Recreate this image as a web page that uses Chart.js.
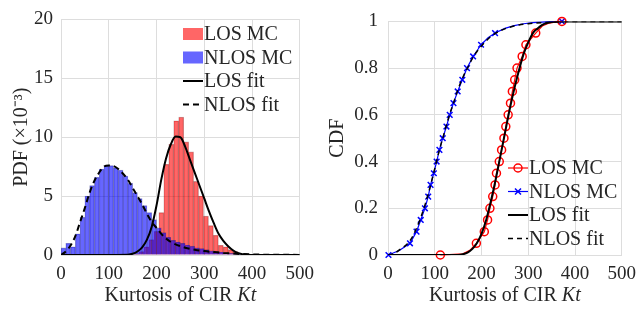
<!DOCTYPE html>
<html lang="en">
<head>
<meta charset="UTF-8">
<title>Kurtosis of CIR - PDF and CDF</title>
<script src="https://cdn.jsdelivr.net/npm/chart.js"></script>
<style>
  body { margin: 0; background: #fff; }
  .wrap { position: relative; width: 644px; height: 314px; }
  canvas { position: absolute; top: 0; }
  #pdfChart { left: 0; }
  #cdfChart { left: 322px; }
</style>
</head>
<body>
<div class="wrap">
  <canvas id="pdfChart" width="322" height="314"></canvas>
  <canvas id="cdfChart" width="322" height="314"></canvas>
</div>
<script>
// LOS histogram: bin centres (bin width ~10.4), heights in units of 1e-3
const losBins = [158.3, 168.7, 179.1, 189.4, 199.8, 210.2, 220.6, 230.9, 241.3, 251.7, 262.1,
                 272.4, 282.8, 293.2, 303.6, 313.9, 324.3, 334.7, 345.1, 355.4, 365.8];
const losPdf  = [0.1, 0.3, 0.7, 1.3, 2.0, 3.6, 7.7, 9.4, 11.4, 11.7, 9.6,
                 8.75, 6.25, 5.0, 3.3, 2.5, 1.67, 0.83, 0.7, 0.45, 0.3];

// NLOS histogram: bin centres (bin width 10)
const nlosBins = [5, 15, 25, 35, 45, 55, 65, 75, 85, 95, 105, 115, 125, 135, 145, 155, 165, 175, 185, 195,
                  205, 215, 225, 235, 245, 255, 265, 275, 285, 295, 305, 315, 325, 335, 345, 355, 365, 375, 385, 395];
const nlosPdf  = [0.6, 1.0, 0.7, 1.8, 3.2, 5.0, 5.9, 6.6, 7.3, 7.6, 7.6, 7.4, 7.2, 6.7, 6.1, 5.3, 4.8, 4.2, 3.6, 3.0,
                  2.3, 1.9, 1.5, 1.25, 1.1, 1.0, 0.85, 0.75, 0.6, 0.55, 0.45, 0.35, 0.3, 0.25, 0.2, 0.15, 0.1, 0.08, 0.05, 0.03];

// fitted pdfs
const losFitX   = [0, 140, 150, 160, 170, 180, 190, 200, 210, 220, 230, 240, 250, 260, 270, 280, 290, 300, 310, 320, 330, 340, 350, 360, 370, 380, 390, 400, 500];
const losFitPdf = [0, 0.03, 0.1, 0.3, 0.65, 1.3, 2.4, 4.2, 6.4, 8.2, 9.4, 10.05, 10.0, 9.2, 8.1, 7.0, 5.9, 4.8, 3.7, 2.7, 1.8, 1.2, 0.75, 0.4, 0.17, 0.07, 0.03, 0.01, 0];

const nlosFitX   = [0, 10, 20, 30, 40, 50, 60, 70, 80, 90, 100, 110, 120, 130, 140, 150, 160, 170, 180, 190, 200, 210, 220, 230, 240, 250, 260, 280, 300, 320, 340, 360, 380, 400, 450, 500];
const nlosFitPdf = [0, 0.3, 0.8, 1.6, 2.8, 4.0, 5.3, 6.3, 7.0, 7.5, 7.6, 7.55, 7.3, 6.9, 6.4, 5.7, 5.0, 4.3, 3.5, 2.8, 2.3, 1.8, 1.4, 1.1, 0.9, 0.75, 0.62, 0.45, 0.33, 0.25, 0.18, 0.12, 0.08, 0.05, 0.02, 0.01];

// empirical cdf, markers at levels 0, 0.05, ... 1
const cdfLevels = [0, 0.05, 0.1, 0.15, 0.2, 0.25, 0.3, 0.35, 0.4, 0.45, 0.5, 0.55, 0.6, 0.65, 0.7, 0.75, 0.8, 0.85, 0.9, 0.95, 1];
const losEcdfX  = [112, 160, 175, 189, 206, 213, 218, 224, 229, 232, 238, 243, 248, 252, 257, 262, 266, 271, 276, 287, 295, 316, 330, 345, 360, 372];
const losEcdf   = [0, 0.005, 0.02, 0.05, 0.1, 0.15, 0.2, 0.25, 0.3, 0.35, 0.4, 0.45, 0.5, 0.55, 0.6, 0.65, 0.7, 0.75, 0.8, 0.85, 0.9, 0.95, 0.98, 0.993, 0.998, 1];
const nlosEcdfX = [1, 25, 47, 61, 70, 79, 86, 91, 98, 104, 110, 117, 125, 132, 140, 149, 159, 169, 182, 199, 214, 229, 250, 270, 290, 310, 340, 372];
const nlosEcdf  = [0, 0.02, 0.05, 0.1, 0.15, 0.2, 0.25, 0.3, 0.35, 0.4, 0.45, 0.5, 0.55, 0.6, 0.65, 0.7, 0.75, 0.8, 0.85, 0.9, 0.93, 0.95, 0.97, 0.982, 0.99, 0.995, 0.998, 1];

// fitted cdfs
const losCdfX = [0, 150, 160, 170, 180, 190, 200, 210, 220, 230, 240, 250, 260, 270, 280, 290, 300, 310, 320, 330, 340, 350, 370, 400, 500];
const losCdf  = [0, 0, 0.003, 0.01, 0.025, 0.05, 0.09, 0.15, 0.23, 0.32, 0.42, 0.52, 0.62, 0.71, 0.79, 0.86, 0.91, 0.95, 0.97, 0.985, 0.993, 0.997, 1, 1, 1];
const nlosCdfX = [0, 10, 20, 30, 40, 50, 60, 70, 80, 90, 100, 110, 120, 130, 140, 150, 160, 170, 180, 190, 200, 220, 240, 260, 280, 300, 330, 370, 400, 500];
const nlosCdf  = [0, 0.005, 0.015, 0.03, 0.045, 0.07, 0.11, 0.16, 0.22, 0.29, 0.37, 0.45, 0.52, 0.59, 0.65, 0.71, 0.76, 0.80, 0.84, 0.87, 0.895, 0.935, 0.96, 0.975, 0.985, 0.99, 0.995, 0.999, 1, 1];

const pdfTicks = ['0', '5', '10', '15', '20'];
const cdfTicks = ['0', '0.2', '0.4', '0.6', '0.8', '1'];

const serif = '"Liberation Serif", "Times New Roman", serif';
const ink = '#262626';
const gridCol = '#dddddd';

const pts = (xs, ys) => xs.map((x, i) => ({ x: x, y: ys[i] }));
// only put a marker on the points that sit on a cdf level
const onLevel = c => cdfLevels.includes(c.raw.y) ? 4 : 0;

function drawMarker(ctx, ds, x, y, r) {
  ctx.strokeStyle = ds.pointBorderColor;
  ctx.lineWidth = ds.pointBorderWidth;
  ctx.beginPath();
  if (ds.pointStyle === 'circle') {
    ctx.arc(x, y, r, 0, Math.PI * 2);
  } else {
    const d = r * 0.75;
    ctx.moveTo(x - d, y - d); ctx.lineTo(x + d, y + d);
    ctx.moveTo(x + d, y - d); ctx.lineTo(x - d, y + d);
  }
  ctx.stroke();
}

// legend drawn inside the plot box, matlab style
const boxLegend = {
  id: 'boxLegend',
  afterDraw(chart, args, opts) {
    const ctx = chart.ctx;
    ctx.save();
    ctx.font = '20px ' + serif;
    ctx.textBaseline = 'middle';
    chart.data.datasets.forEach((ds, i) => {
      const y = opts.top + i * opts.rowGap;
      const x0 = opts.left, x1 = opts.left + opts.swatch;
      if (ds.type === 'bar') {
        ctx.fillStyle = ds.backgroundColor;
        ctx.fillRect(x0, y - 6, opts.swatch, 12);
      } else {
        ctx.strokeStyle = ds.borderColor;
        ctx.lineWidth = ds.borderWidth;
        ctx.setLineDash(ds.borderDash || []);
        ctx.beginPath();
        ctx.moveTo(x0, y);
        ctx.lineTo(x1, y);
        ctx.stroke();
        ctx.setLineDash([]);
        if (ds.pointStyle) drawMarker(ctx, ds, (x0 + x1) / 2, y, 4);
      }
      ctx.fillStyle = ink;
      ctx.fillText(ds.label, x1 + 1, y + 1);
    });
    ctx.restore();
  }
};

// x title with italic symbol
const kurtTitle = {
  id: 'kurtTitle',
  afterDraw(chart, args, opts) {
    const { ctx, chartArea } = chart;
    ctx.save();
    ctx.fillStyle = ink;
    ctx.textBaseline = 'middle';
    const normal = '20px ' + serif, italic = 'italic 20px ' + serif;
    ctx.font = normal;
    const w1 = ctx.measureText(opts.text).width;
    ctx.font = italic;
    const w2 = ctx.measureText(opts.symbol).width;
    const x = (chartArea.left + chartArea.right) / 2 - (w1 + w2) / 2;
    ctx.font = normal;
    ctx.fillText(opts.text, x, opts.y);
    ctx.font = italic;
    ctx.fillText(opts.symbol, x + w1, opts.y);
    ctx.restore();
  }
};

function xAxis() {
  return {
    type: 'linear', min: 0, max: 500, offset: false,
    grid: { color: gridCol, drawTicks: false, offset: false },
    border: { color: gridCol },
    ticks: { stepSize: 100, padding: 8, color: ink, font: { family: serif, size: 19 } },
    afterFit: s => { s.height = 59; }
  };
}

function yAxis(min, max, step, labels, title, width, titlePad, tickPad) {
  return {
    min: min, max: max,
    grid: { color: gridCol, drawTicks: false },
    border: { color: gridCol },
    ticks: { stepSize: step, padding: tickPad, color: ink, font: { family: serif, size: 19 },
             callback: (v, i) => labels[i] },
    title: { display: true, text: title, color: ink, font: { family: serif, size: 20 }, padding: { top: titlePad, bottom: 0 } },
    afterFit: s => { s.width = width; }
  };
}

new Chart(document.getElementById('pdfChart'), {
  type: 'bar',
  data: {
    datasets: [
      { type: 'bar', label: 'LOS MC', data: pts(losBins, losPdf), backgroundColor: 'rgba(255,0,0,0.6)',
        borderColor: 'rgba(80,0,0,0.35)', borderWidth: 0.6, grouped: false, barThickness: 5.0, order: 3 },
      { type: 'bar', label: 'NLOS MC', data: pts(nlosBins, nlosPdf), backgroundColor: 'rgba(0,0,255,0.6)',
        borderColor: 'rgba(0,0,80,0.35)', borderWidth: 0.6, grouped: false, barThickness: 4.82, order: 2 },
      { type: 'line', label: 'LOS fit', data: pts(losFitX, losFitPdf), borderColor: '#000', borderWidth: 2,
        pointRadius: 0, cubicInterpolationMode: 'monotone', order: 1 },
      { type: 'line', label: 'NLOS fit', data: pts(nlosFitX, nlosFitPdf), borderColor: '#000', borderWidth: 2,
        borderDash: [6, 4], pointRadius: 0, cubicInterpolationMode: 'monotone', order: 0 }
    ]
  },
  options: {
    responsive: false,
    animation: false,
    events: [],
    layout: { padding: { left: 0, right: 20, top: 15, bottom: 0 } },
    plugins: {
      legend: { display: false },
      tooltip: { enabled: false },
      boxLegend: { left: 183, top: 34, rowGap: 23.5, swatch: 20 },
      kurtTitle: { text: 'Kurtosis of CIR ', symbol: 'Kt', y: 296 }
    },
    scales: {
      x: xAxis(),
      y: yAxis(0, 20, 5, pdfTicks, 'PDF (×10⁻³)', 61, 10, 8)
    }
  },
  plugins: [boxLegend, kurtTitle]
});

new Chart(document.getElementById('cdfChart'), {
  type: 'line',
  data: {
    datasets: [
      { label: 'LOS MC', data: pts(losEcdfX, losEcdf), borderColor: '#ff0000', borderWidth: 1.2,
        pointStyle: 'circle', pointRadius: onLevel, pointBorderColor: '#ff0000', pointBackgroundColor: 'rgba(0,0,0,0)',
        pointBorderWidth: 1.5, clip: false, order: 2 },
      { label: 'NLOS MC', data: pts(nlosEcdfX, nlosEcdf), borderColor: '#0000ff', borderWidth: 1.2,
        pointStyle: 'crossRot', pointRadius: onLevel, pointBorderColor: '#0000ff', pointBackgroundColor: 'rgba(0,0,0,0)',
        pointBorderWidth: 1.5, clip: false, order: 3 },
      { label: 'LOS fit', data: pts(losCdfX, losCdf), borderColor: '#000', borderWidth: 2,
        pointRadius: 0, cubicInterpolationMode: 'monotone', order: 1 },
      { label: 'NLOS fit', data: pts(nlosCdfX, nlosCdf), borderColor: '#000', borderWidth: 1.5,
        borderDash: [5, 4], pointRadius: 0, cubicInterpolationMode: 'monotone', order: 0 }
    ]
  },
  options: {
    responsive: false,
    animation: false,
    events: [],
    layout: { padding: { left: 0, right: 17, top: 15, bottom: 0 } },
    plugins: {
      legend: { display: false },
      tooltip: { enabled: false },
      boxLegend: { left: 186, top: 168, rowGap: 23.5, swatch: 20 },
      kurtTitle: { text: 'Kurtosis of CIR ', symbol: 'Kt', y: 296 }
    },
    scales: {
      x: xAxis(),
      y: yAxis(0, 1, 0.2, cdfTicks, 'CDF', 66, 3.5, 10)
    }
  },
  plugins: [boxLegend, kurtTitle]
});
</script>
</body>
</html>
